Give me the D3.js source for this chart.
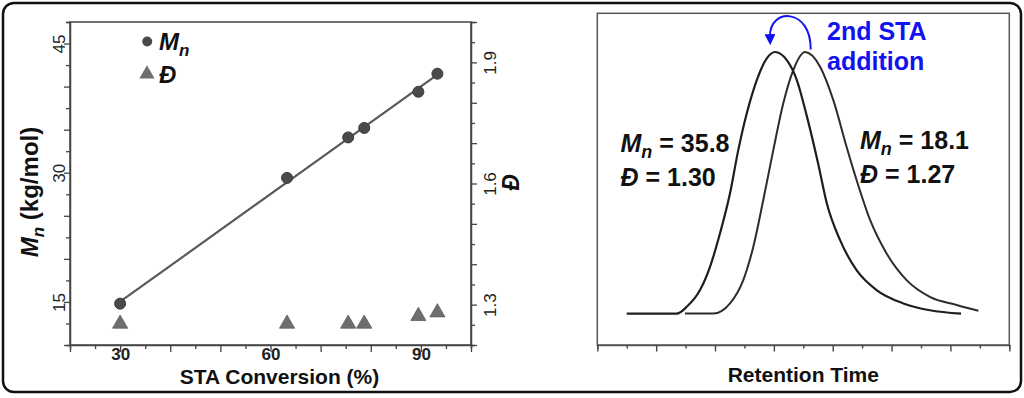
<!DOCTYPE html>
<html>
<head>
<meta charset="utf-8">
<script src="https://cdn.jsdelivr.net/npm/d3@7"></script>
<style>
  body { margin: 0; background: #fff; }
  svg { display: block; font-family: "Liberation Sans", Arial, sans-serif; }
</style>
</head>
<body>
<svg id="chart" width="1024" height="398"></svg>
<script>
"use strict";

// left panel: Mn and dispersity vs STA conversion
var conversion = [30, 63.3, 75.5, 78.7, 89.5, 93.3];
var mnValues = [14.8, 29.4, 34.1, 35.2, 39.4, 41.5];
var dispersity = [1.255, 1.255, 1.255, 1.255, 1.274, 1.283];
var xTickLabels = [30, 60, 90];
var mnTickLabels = [15, 30, 45];
var dTickLabels = [1.3, 1.6, 1.9];

// right panel: GPC traces (retention, normalised signal)
var retentionA = [1.0, 2.7, 3.04, 3.49, 3.83, 4.17, 4.51, 4.79, 5.08, 5.42, 5.76, 6.04, 6.44, 6.78, 7.12, 7.5, 7.8, 8.25, 8.81, 9.49, 10.4, 11.3, 12.36];
var signalA = [0, 0, 0.026, 0.09, 0.179, 0.307, 0.46, 0.625, 0.766, 0.893, 0.976, 1.0, 0.969, 0.893, 0.755, 0.576, 0.421, 0.281, 0.166, 0.09, 0.039, 0.013, 0.0];
var retentionB = [2.98, 3.94, 4.51, 4.96, 5.3, 5.64, 5.98, 6.32, 6.66, 7.06, 7.57, 8.02, 8.47, 8.81, 9.27, 9.83, 10.51, 11.3, 12.21, 12.95];
var signalB = [0, 0, 0.039, 0.128, 0.255, 0.434, 0.625, 0.804, 0.931, 1.0, 0.944, 0.816, 0.638, 0.511, 0.358, 0.23, 0.128, 0.064, 0.033, 0.011];
var peakLabels = [
  {mn: "35.8", d: "1.30"},
  {mn: "18.1", d: "1.27"}
];

var svg = d3.select("#chart");

// outer rounded border
svg.append("rect")
  .attr("x", 3).attr("y", 3)
  .attr("width", 1018).attr("height", 389)
  .attr("rx", 11)
  .attr("fill", "none")
  .attr("stroke", "#111")
  .attr("stroke-width", 2.5);

// ---------- left panel ----------
var xL = d3.scaleLinear().domain([20, 100]).range([70, 471]);
var yL = d3.scaleLinear().domain([10, 47.5]).range([345, 22]);
var yR = d3.scaleLinear().domain([1.2, 2.0]).range([345, 22]);

var axisColor = "#444";
var left = svg.append("g");

left.append("rect")
  .attr("x", 70).attr("y", 22)
  .attr("width", 401).attr("height", 323)
  .attr("fill", "none")
  .attr("stroke", axisColor)
  .attr("stroke-width", 1.5);

function styleAxis(g) {
  g.select(".domain").attr("stroke", axisColor).attr("stroke-width", 1.5);
  g.selectAll(".tick line").attr("stroke", axisColor).attr("stroke-width", 1.3);
}

// x axis
var xAxis = left.append("g")
  .attr("transform", "translate(0,345)")
  .call(d3.axisBottom(xL)
    .tickValues(d3.range(20, 100.1, 5))
    .tickSize(4)
    .tickFormat(function (d) { return xTickLabels.indexOf(d) >= 0 ? d : ""; }));
styleAxis(xAxis);
xAxis.selectAll(".tick line")
  .attr("y2", function (d) { return d % 10 === 0 ? 7 : 4; });
xAxis.selectAll(".tick text")
  .attr("y", 15)
  .attr("dy", 0)
  .attr("font-size", 17)
  .attr("font-weight", "bold")
  .attr("fill", "#222");

left.append("text")
  .attr("x", 279.5).attr("y", 384)
  .attr("text-anchor", "middle")
  .attr("font-size", 21)
  .attr("font-weight", "bold")
  .attr("fill", "#111")
  .text("STA Conversion (%)");

// left y axis (Mn)
var yAxisL = left.append("g")
  .attr("transform", "translate(70,0)")
  .call(d3.axisLeft(yL)
    .tickValues(d3.range(10, 47.6, 2.5))
    .tickSize(4)
    .tickFormat(function (d) { return mnTickLabels.indexOf(d) >= 0 ? d : ""; }));
styleAxis(yAxisL);
yAxisL.selectAll(".tick line")
  .attr("x2", function (d) { return d % 5 === 0 ? -6 : -4; });
yAxisL.selectAll(".tick text")
  .attr("transform", "rotate(-90)")
  .attr("x", 0).attr("y", -5).attr("dy", 0)
  .attr("text-anchor", "middle")
  .attr("font-size", 17)
  .attr("fill", "#222");

var mnTitle = left.append("text")
  .attr("transform", "translate(37.5,192) rotate(-90)")
  .attr("text-anchor", "middle")
  .attr("font-size", 24)
  .attr("font-weight", "bold")
  .attr("fill", "#111");
mnTitle.append("tspan").attr("font-style", "italic").text("M");
mnTitle.append("tspan").attr("font-style", "italic").attr("font-size", 17).attr("dy", 6).text("n");
mnTitle.append("tspan").attr("dy", -6).text(" (kg/mol)");

// right y axis (dispersity)
var yAxisR = left.append("g")
  .attr("transform", "translate(471,0)")
  .call(d3.axisRight(yR)
    .tickValues(d3.range(0, 17).map(function (i) { return +(1.2 + i * 0.05).toFixed(2); }))
    .tickSize(4)
    .tickFormat(function (d) { return dTickLabels.indexOf(d) >= 0 ? d3.format(".1f")(d) : ""; }));
styleAxis(yAxisR);
yAxisR.selectAll(".tick line")
  .attr("x2", function (d) { return Math.abs(d * 10 - Math.round(d * 10)) < 1e-6 ? 6 : 4; });
yAxisR.selectAll(".tick text")
  .attr("transform", "rotate(-90)")
  .attr("x", 0).attr("y", 25).attr("dy", 0)
  .attr("text-anchor", "middle")
  .attr("font-size", 17)
  .attr("fill", "#222");

left.append("text")
  .attr("transform", "translate(519,182.5) rotate(-90)")
  .attr("text-anchor", "middle")
  .attr("font-size", 23)
  .attr("font-weight", "bold")
  .attr("font-style", "italic")
  .attr("fill", "#111")
  .text("Đ");

// linear fit of Mn vs conversion
var n = conversion.length;
var mx = d3.mean(conversion), my = d3.mean(mnValues);
var sxy = 0, sxx = 0;
for (var i = 0; i < n; i++) {
  sxy += (conversion[i] - mx) * (mnValues[i] - my);
  sxx += (conversion[i] - mx) * (conversion[i] - mx);
}
var slope = sxy / sxx;
var intercept = my - slope * mx;
var xMin = d3.min(conversion), xMax = d3.max(conversion);

left.append("line")
  .attr("x1", xL(xMin)).attr("y1", yL(intercept + slope * xMin))
  .attr("x2", xL(xMax)).attr("y2", yL(intercept + slope * xMax))
  .attr("stroke", "#5a5a5a")
  .attr("stroke-width", 2.2);

var triangle = d3.symbol().type(d3.symbolTriangle).size(100);

left.selectAll(".dpoint")
  .data(conversion)
  .enter().append("path")
  .attr("class", "dpoint")
  .attr("d", triangle)
  .attr("transform", function (d, i) { return "translate(" + xL(d) + "," + (yR(dispersity[i]) + 1) + ")"; })
  .attr("fill", "#6e6e6e")
  .attr("stroke", "#5e5e5e")
  .attr("stroke-width", 0.8);

left.selectAll(".mnpoint")
  .data(conversion)
  .enter().append("circle")
  .attr("class", "mnpoint")
  .attr("cx", function (d) { return xL(d); })
  .attr("cy", function (d, i) { return yL(mnValues[i]); })
  .attr("r", 5.5)
  .attr("fill", "#4a4a4a")
  .attr("stroke", "#3a3a3a")
  .attr("stroke-width", 1);

// legend
left.append("circle")
  .attr("cx", 147.2).attr("cy", 41.5).attr("r", 5)
  .attr("fill", "#4a4a4a");
left.append("path")
  .attr("d", triangle)
  .attr("transform", "translate(147,74)")
  .attr("fill", "#6e6e6e");

var legMn = left.append("text")
  .attr("x", 159).attr("y", 50)
  .attr("font-size", 24)
  .attr("font-weight", "bold")
  .attr("font-style", "italic")
  .attr("fill", "#111");
legMn.append("tspan").text("M");
legMn.append("tspan").attr("font-size", 17).attr("dy", 6).text("n");

left.append("text")
  .attr("x", 159).attr("y", 83)
  .attr("font-size", 24)
  .attr("font-weight", "bold")
  .attr("font-style", "italic")
  .attr("fill", "#111")
  .text("Đ");

// ---------- right panel ----------
var xG = d3.scaleLinear().domain([0, 14]).range([597.3, 1009.3]);
var yG = d3.scaleLinear().domain([-0.12, 1.148]).range([345, 13.3]);

var right = svg.append("g");

right.append("rect")
  .attr("x", 597.3).attr("y", 13.3)
  .attr("width", 412).attr("height", 331.7)
  .attr("fill", "none")
  .attr("stroke", "#555")
  .attr("stroke-width", 1.5);

var gAxis = right.append("g")
  .attr("transform", "translate(0,345)")
  .call(d3.axisBottom(xG)
    .tickValues(d3.range(0, 14.1, 1))
    .tickSize(4)
    .tickFormat(""));
gAxis.select(".domain").attr("stroke", "#555").attr("stroke-width", 1.5);
gAxis.selectAll(".tick line")
  .attr("stroke", "#444")
  .attr("stroke-width", 1.4)
  .attr("y2", function (d) { return d % 2 === 0 ? 6.5 : 3.5; });

right.append("text")
  .attr("x", 803.3).attr("y", 381.7)
  .attr("text-anchor", "middle")
  .attr("font-size", 21)
  .attr("font-weight", "bold")
  .attr("fill", "#111")
  .text("Retention Time");

var trace = d3.line()
  .x(function (d) { return xG(d[0]); })
  .y(function (d) { return yG(d[1]); })
  .curve(d3.curveMonotoneX);

right.append("path")
  .datum(d3.zip(retentionB, signalB))
  .attr("d", trace)
  .attr("fill", "none")
  .attr("stroke", "#2c2c2c")
  .attr("stroke-width", 2);

right.append("path")
  .datum(d3.zip(retentionA, signalA))
  .attr("d", trace)
  .attr("fill", "none")
  .attr("stroke", "#1e1e1e")
  .attr("stroke-width", 2.2);

// peak labels
var labelPos = [{x: 620.5, y: 151.5}, {x: 860, y: 148.5}];
peakLabels.forEach(function (p, k) {
  var t1 = right.append("text")
    .attr("x", labelPos[k].x).attr("y", labelPos[k].y)
    .attr("font-size", 25)
    .attr("font-weight", "bold")
    .attr("fill", "#111");
  t1.append("tspan").attr("font-style", "italic").text("M");
  t1.append("tspan").attr("font-style", "italic").attr("font-size", 18).attr("dy", 6).text("n");
  t1.append("tspan").attr("dy", -6).text(" = " + p.mn);

  var t2 = right.append("text")
    .attr("x", labelPos[k].x).attr("y", labelPos[k].y + 34.5)
    .attr("font-size", 25)
    .attr("font-weight", "bold")
    .attr("fill", "#111");
  t2.append("tspan").attr("font-style", "italic").text("Đ");
  t2.append("tspan").text(" = " + p.d);
});

// blue arrow: shift of the peak after the 2nd STA addition
var blue = "#1212f0";
svg.append("defs").append("marker")
  .attr("id", "arrowhead")
  .attr("viewBox", "0 0 10 10")
  .attr("refX", 2).attr("refY", 5)
  .attr("markerUnits", "userSpaceOnUse")
  .attr("markerWidth", 11).attr("markerHeight", 11)
  .attr("orient", "auto")
  .append("path")
  .attr("d", "M0,0 L10,5 L0,10 Z")
  .attr("fill", blue);

var arrowFrom = [7.25, 1.01];
var arrowTo = [5.87, 1.06];
var arcTop = 1.17;
right.append("path")
  .attr("d", "M" + xG(arrowFrom[0]) + "," + yG(arrowFrom[1]) +
    " C" + xG(arrowFrom[0] + 0.02) + "," + yG(arcTop) +
    " " + xG(arrowTo[0] - 0.02) + "," + yG(arcTop) +
    " " + xG(arrowTo[0]) + "," + yG(arrowTo[1]))
  .attr("fill", "none")
  .attr("stroke", blue)
  .attr("stroke-width", 2)
  .attr("marker-end", "url(#arrowhead)");

var note = right.append("text")
  .attr("font-size", 25)
  .attr("font-weight", "bold")
  .attr("fill", blue);
note.append("tspan").attr("x", 827).attr("y", 40).text("2nd STA");
note.append("tspan").attr("x", 827).attr("y", 70).text("addition");
</script>
</body>
</html>
